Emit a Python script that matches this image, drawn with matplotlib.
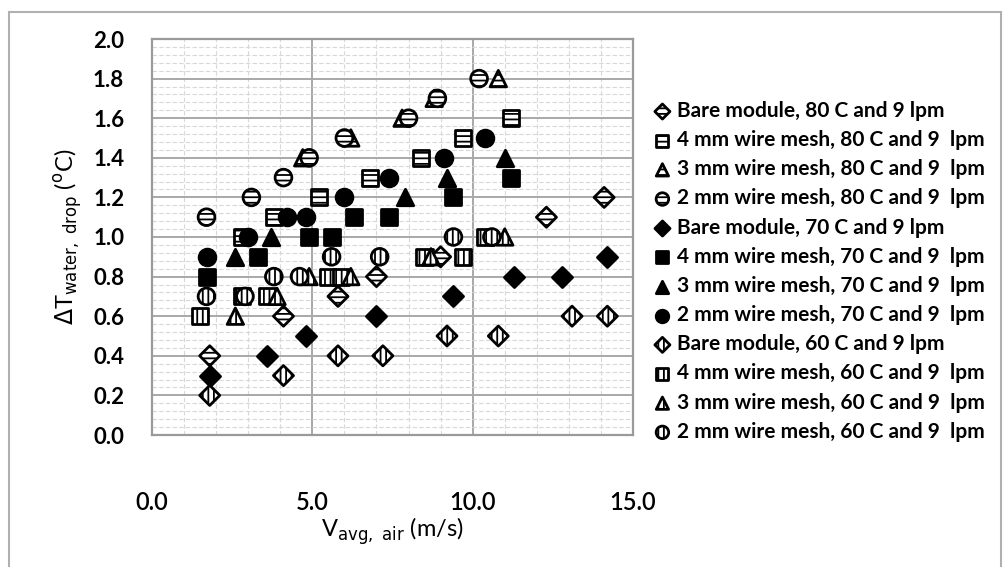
import matplotlib
matplotlib.use("Agg")
import matplotlib.pyplot as plt
from matplotlib.ticker import MultipleLocator
from matplotlib.patches import Rectangle

plt.rcParams['font.family'] = ['Lato', 'DejaVu Sans']
plt.rcParams['hatch.linewidth'] = 1.3

# Temperature drop of the water vs. average air velocity
bare80_v = [1.8, 4.1, 5.8, 7.0, 9.0, 12.3, 14.1]
bare80_dt = [0.4, 0.6, 0.7, 0.8, 0.9, 1.1, 1.2]
mesh4_80_v = [2.8, 3.8, 5.2, 6.8, 8.4, 9.7, 11.2]
mesh4_80_dt = [1.0, 1.1, 1.2, 1.3, 1.4, 1.5, 1.6]
mesh3_80_v = [4.7, 6.2, 7.8, 8.8, 10.8]
mesh3_80_dt = [1.4, 1.5, 1.6, 1.7, 1.8]
mesh2_80_v = [1.7, 3.1, 4.1, 4.9, 6.0, 8.0, 8.9, 10.2]
mesh2_80_dt = [1.1, 1.2, 1.3, 1.4, 1.5, 1.6, 1.7, 1.8]

bare70_v = [1.8, 3.6, 4.8, 7.0, 9.4, 11.3, 12.8, 14.2]
bare70_dt = [0.3, 0.4, 0.5, 0.6, 0.7, 0.8, 0.8, 0.9]
mesh4_70_v = [1.7, 3.3, 4.9, 5.6, 6.3, 7.4, 9.4, 11.2]
mesh4_70_dt = [0.8, 0.9, 1.0, 1.0, 1.1, 1.1, 1.2, 1.3]
mesh3_70_v = [2.6, 3.7, 7.9, 9.2, 11.0]
mesh3_70_dt = [0.9, 1.0, 1.2, 1.3, 1.4]
mesh2_70_v = [1.7, 3.0, 4.2, 4.8, 6.0, 7.4, 9.1, 10.4]
mesh2_70_dt = [0.9, 1.0, 1.1, 1.1, 1.2, 1.3, 1.4, 1.5]

bare60_v = [1.8, 4.1, 5.8, 7.2, 9.2, 10.8, 13.1, 14.2]
bare60_dt = [0.2, 0.3, 0.4, 0.4, 0.5, 0.5, 0.6, 0.6]
mesh4_60_v = [1.5, 2.8, 3.6, 5.5, 5.9, 8.5, 9.7, 10.4]
mesh4_60_dt = [0.6, 0.7, 0.7, 0.8, 0.8, 0.9, 0.9, 1.0]
mesh3_60_v = [2.6, 3.9, 4.9, 6.2, 8.7, 11.0]
mesh3_60_dt = [0.6, 0.7, 0.8, 0.8, 0.9, 1.0]
mesh2_60_v = [1.7, 2.9, 3.8, 4.6, 5.6, 7.1, 9.4, 10.6]
mesh2_60_dt = [0.7, 0.7, 0.8, 0.8, 0.9, 0.9, 1.0, 1.0]

labels = [
    "Bare module, 80 C and 9 lpm",
    "4 mm wire mesh, 80 C and 9  lpm",
    "3 mm wire mesh, 80 C and 9  lpm",
    "2 mm wire mesh, 80 C and 9  lpm",
    "Bare module, 70 C and 9 lpm",
    "4 mm wire mesh, 70 C and 9  lpm",
    "3 mm wire mesh, 70 C and 9  lpm",
    "2 mm wire mesh, 70 C and 9  lpm",
    "Bare module, 60 C and 9 lpm",
    "4 mm wire mesh, 60 C and 9  lpm",
    "3 mm wire mesh, 60 C and 9  lpm",
    "2 mm wire mesh, 60 C and 9  lpm",
]

data = [
    (bare80_v, bare80_dt), (mesh4_80_v, mesh4_80_dt),
    (mesh3_80_v, mesh3_80_dt), (mesh2_80_v, mesh2_80_dt),
    (bare70_v, bare70_dt), (mesh4_70_v, mesh4_70_dt),
    (mesh3_70_v, mesh3_70_dt), (mesh2_70_v, mesh2_70_dt),
    (bare60_v, bare60_dt), (mesh4_60_v, mesh4_60_dt),
    (mesh3_60_v, mesh3_60_dt), (mesh2_60_v, mesh2_60_dt),
]

# marker shape per configuration, fill/hatch per temperature
shapes = ['D', 's', '^', 'o']
sizes = {'D': 105, 's': 135, '^': 140, 'o': 145}
temp_style = [
    dict(facecolor='white', hatch='---'),   # 80 C
    dict(facecolor='black', hatch=None),    # 70 C
    dict(facecolor='white', hatch='|||'),   # 60 C
]

fig = plt.figure(figsize=(10.07, 5.67), dpi=100)
fig.patches.append(Rectangle((9 / 1007, -0.01), 992 / 1007, 1 - 12 / 567 + 0.01,
                             transform=fig.transFigure, fill=False,
                             edgecolor='#b0b0b0', linewidth=1.5))
ax = fig.add_axes([152 / 1007, 1 - 435 / 567, 481 / 1007, 396 / 567])

handles = []
for i, ((v, dt), label) in enumerate(zip(data, labels)):
    mk = shapes[i % 4]
    st = temp_style[i // 4]
    h = ax.scatter(v, dt, marker=mk, s=sizes[mk], facecolor=st['facecolor'],
                   edgecolor='black', hatch=st['hatch'], linewidths=2.0,
                   label=label, zorder=3)
    handles.append(h)

ax.set_xlim(0, 15)
ax.set_ylim(0, 2.0)
ax.xaxis.set_major_locator(MultipleLocator(5))
ax.xaxis.set_minor_locator(MultipleLocator(1))
ax.yaxis.set_major_locator(MultipleLocator(0.2))
ax.yaxis.set_minor_locator(MultipleLocator(0.04))
ax.xaxis.set_major_formatter(lambda x, pos: f"{x:.1f}")
ax.yaxis.set_major_formatter(lambda y, pos: f"{y:.1f}")

ax.grid(True, which='major', color='#a8a8a8', linewidth=1.4, zorder=0)
ax.grid(True, which='minor', color='#d8d8d8', linewidth=0.8,
        linestyle=(0, (4, 2)), zorder=0)
ax.set_axisbelow(True)
for sp in ax.spines.values():
    sp.set_color('#9a9a9a')
    sp.set_linewidth(1.6)

ax.tick_params(which='both', length=0)
ax.tick_params(axis='y', pad=20, labelsize=16)
ax.tick_params(axis='x', pad=40, labelsize=17)
for t in ax.get_yticklabels():
    t.set_fontweight('bold')
for t in ax.get_xticklabels():
    t.set_fontweight('semibold')

ax.set_xlabel(r"V$_{\mathrm{avg,\ air}}$ (m/s)", fontsize=17, labelpad=1)
ax.set_ylabel(r"$\Delta$T$_{\mathrm{water,\ drop}}$ ($^{\mathrm{o}}$C)",
              fontsize=17, labelpad=6)

fig.legend(handles=handles, loc='upper left', bbox_to_anchor=(652 / 1007, 1 - 101 / 567),
           frameon=False, prop={'weight': 'bold', 'size': 15},
           labelspacing=0.44, handletextpad=0.2, handlelength=1.0,
           markerscale=0.75, borderaxespad=0, borderpad=0)

fig.savefig("out.png", dpi=100, facecolor='white')
